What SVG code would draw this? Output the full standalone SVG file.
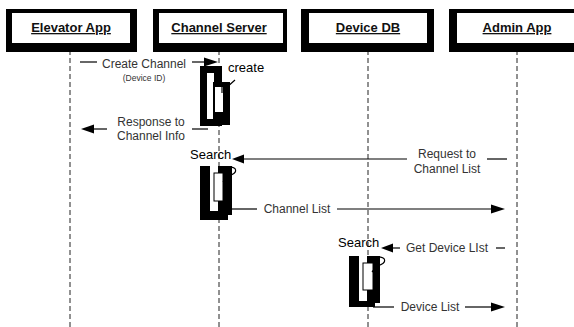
<svg xmlns="http://www.w3.org/2000/svg" width="574" height="327" viewBox="0 0 574 327">
<style>
.life{stroke:#222;stroke-width:1;stroke-dasharray:5 3;fill:none}
.shadow{fill:#000}
.box{fill:#fff}
.title{font-family:"Liberation Sans",Arial,sans-serif;font-size:13px;font-weight:bold;fill:#111;text-anchor:middle;text-decoration:underline}
.lbl{font-family:"Liberation Sans",Arial,sans-serif;font-size:12px;fill:#333;text-anchor:middle}
.small{font-family:"Liberation Sans",Arial,sans-serif;font-size:8.5px;fill:#333;text-anchor:middle}
.act{font-family:"Liberation Sans",Arial,sans-serif;font-size:13px;fill:#000}
.msg{stroke:#000;stroke-width:1.2;fill:none}
.head{fill:#000}
.self{stroke:#000;stroke-width:1.2;fill:none}
</style>
<rect width="574" height="327" fill="#fff"/>
<g id="lifelines">
<line class="life" x1="70" y1="42" x2="70" y2="327"/>
<line class="life" x1="219" y1="42" x2="219" y2="327"/>
<line class="life" x1="368" y1="42" x2="368" y2="327"/>
<line class="life" x1="517" y1="42" x2="517" y2="327"/>
</g>
<g id="elevator-app">
<rect class="shadow" x="6" y="9" width="131" height="43"/>
<rect class="box" x="12" y="13" width="118" height="30"/>
<text class="title" x="71" y="32">Elevator App</text>
</g>
<g id="channel-server">
<rect class="shadow" x="153" y="9" width="134" height="43"/>
<rect class="box" x="159" y="13" width="124" height="30"/>
<text class="title" x="219" y="32">Channel Server</text>
</g>
<g id="device-db">
<rect class="shadow" x="301" y="9" width="133" height="43"/>
<rect class="box" x="309" y="13" width="118" height="30"/>
<text class="title" x="368" y="32">Device DB</text>
</g>
<g id="admin-app">
<rect class="shadow" x="449" y="9" width="130" height="43"/>
<rect class="box" x="457" y="13" width="122" height="30"/>
<text class="title" x="517" y="32">Admin App</text>
</g>
<g id="activation-create">
<rect class="shadow" x="200" y="66" width="22" height="60"/>
<rect class="box" x="207" y="73" width="7" height="46"/>
<rect class="shadow" x="213" y="82" width="17" height="43"/>
<rect class="box" x="215" y="87" width="8" height="25"/>
<path class="self" d="M235,80 L226,88 M222,87 L222,93"/>
<text class="act" x="228" y="72">create</text>
</g>
<g id="activation-search-channel">
<rect class="box" x="210" y="166" width="10" height="44"/>
<rect class="shadow" x="200" y="166" width="10" height="54"/>
<rect class="shadow" x="200" y="211" width="28" height="9"/>
<rect class="shadow" x="218" y="166" width="14" height="49"/>
<rect class="box" x="214" y="173" width="9" height="28" stroke="#000" stroke-width="1"/>
<path class="self" d="M226,167 C238,166 239,173 228,176 L223,182"/>
<text class="act" x="190" y="159">Search</text>
</g>
<g id="activation-search-device">
<rect class="box" x="359" y="256" width="10" height="44"/>
<rect class="shadow" x="349" y="256" width="10" height="51"/>
<rect class="shadow" x="349" y="301" width="26" height="6"/>
<rect class="shadow" x="367" y="256" width="13" height="47"/>
<rect class="box" x="363" y="263" width="10" height="27" stroke="#000" stroke-width="1"/>
<path class="self" d="M375,257 C387,256 388,263 377,266 L372,272"/>
<text class="act" x="338" y="247">Search</text>
</g>
<g id="connectors">
<!-- Create Channel -->
<line class="msg" x1="80" y1="62" x2="97" y2="62"/>
<line class="msg" x1="192" y1="62" x2="205" y2="62"/>
<polygon class="head" points="218,62 204,57.5 204,66.5"/>
<text class="lbl" x="144" y="68">Create Channel</text>
<text class="small" x="144" y="81">(Device ID)</text>
<!-- Response to Channel Info -->
<line class="msg" x1="192" y1="129" x2="208" y2="129"/>
<line class="msg" x1="92" y1="129" x2="107" y2="129"/>
<polygon class="head" points="81,129 94,124.5 94,133.5"/>
<text class="lbl" x="151" y="126">Response to</text>
<text class="lbl" x="151" y="140">Channel Info</text>
<!-- Request to Channel List -->
<line class="msg" x1="487" y1="159" x2="507" y2="159"/>
<line class="msg" x1="241" y1="159" x2="407" y2="159"/>
<polygon class="head" points="232,159 244,154.5 244,163.5"/>
<text class="lbl" x="447" y="158">Request to</text>
<text class="lbl" x="447" y="173">Channel List</text>
<!-- Channel List -->
<line class="msg" x1="225" y1="209" x2="257" y2="209"/>
<line class="msg" x1="337" y1="209" x2="492" y2="209"/>
<polygon class="head" points="505,209 491,204.5 491,213.5"/>
<text class="lbl" x="297" y="213">Channel List</text>
<!-- Get Device List -->
<line class="msg" x1="496" y1="248" x2="505" y2="248"/>
<line class="msg" x1="391" y1="248" x2="400" y2="248"/>
<polygon class="head" points="381,248 393,243.5 393,252.5"/>
<text class="lbl" x="447" y="252">Get Device LIst</text>
<!-- Device List -->
<line class="msg" x1="373" y1="307" x2="394" y2="307"/>
<line class="msg" x1="465" y1="307" x2="493" y2="307"/>
<polygon class="head" points="505,307 491,302.5 491,311.5"/>
<text class="lbl" x="430" y="311">Device List</text>
</g>
</svg>
